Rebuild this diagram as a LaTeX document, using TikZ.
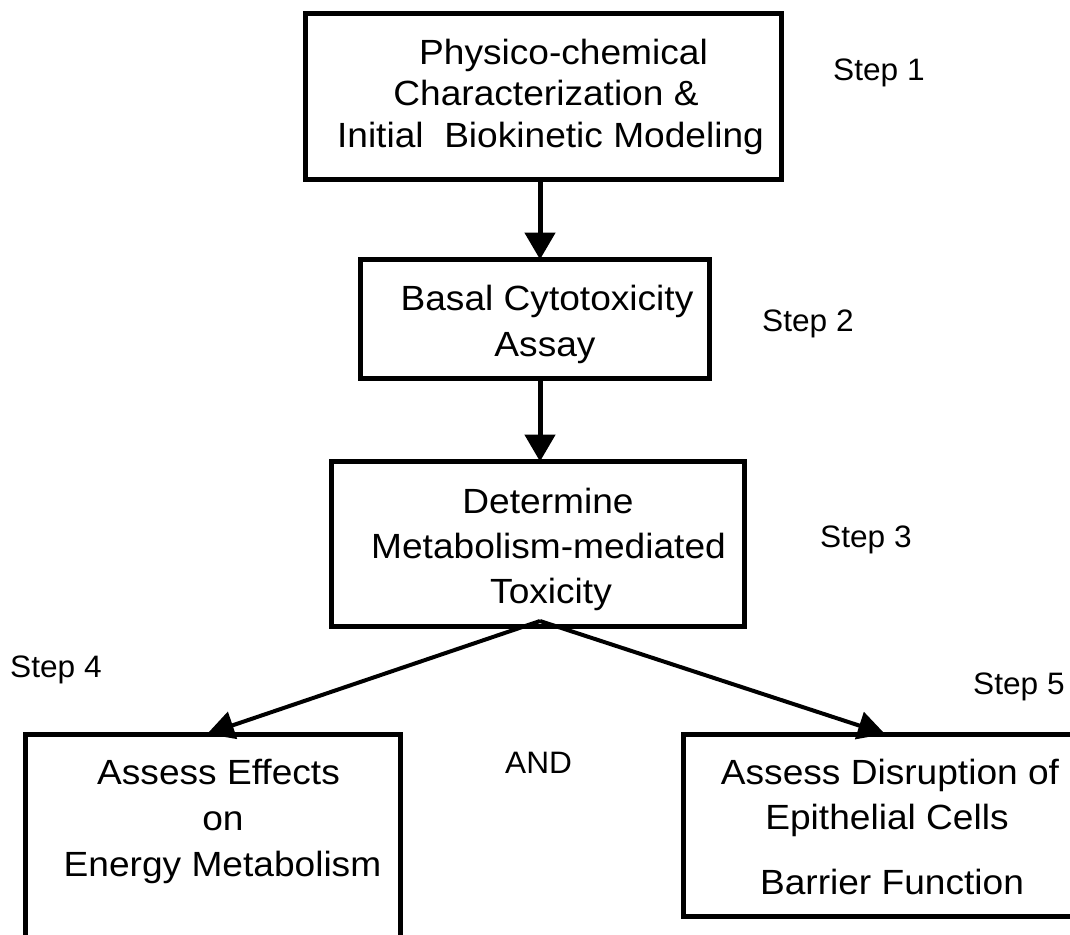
\documentclass[tikz,border=0pt]{standalone}
\usepackage{fontspec}
\setmainfont{Liberation Sans}
\newfontfamily\boxfont[FakeStretch=1.06]{Liberation Sans}
\newfontfamily\stepfont[FakeStretch=1.02]{Liberation Sans}
\usetikzlibrary{arrows.meta}
\begin{document}
\begin{tikzpicture}[x=1pt,y=-1pt,
  box/.style={draw, line width=5pt, rectangle, inner sep=0pt, outer sep=0pt},
  txt/.style={anchor=base, inner sep=0pt, font=\boxfont\fontsize{35}{42}\selectfont},
  steplbl/.style={anchor=base west, inner sep=0pt, font=\stepfont\fontsize{31}{37}\selectfont},
  arr/.style={line width=5pt, -{Triangle[length=27pt,width=30pt]}},
  darr/.style={line width=4pt, -{Triangle[length=27pt,width=28pt]}}]
\useasboundingbox (0,0) rectangle (1070,934);
\clip (0,0) rectangle (1070,934);

% boxes
\node[box, minimum width=475.5pt, minimum height=165pt] (b1) at (543.25,96.5) {};
\node[box, minimum width=349pt, minimum height=119pt] (b2) at (535,319) {};
\node[box, minimum width=413.5pt, minimum height=164.5pt] (b3) at (537.75,543.75) {};
\node[box, minimum width=375pt, minimum height=215pt] (b4) at (212.5,841.5) {};
\node[box, minimum width=398pt, minimum height=182.5pt] (b5) at (882.5,825.25) {};

% box texts
\node[txt] (t1a) at (563.5,65) {Physico-chemical};
\node[txt] (t1b) at (546,105) {Characterization \&};
\node[txt] (t1c) at (550.5,147) {Initial\ \ Biokinetic Modeling};

\node[txt] (t2a) at (547,310) {Basal Cytotoxicity};
\node[txt] (t2b) at (545,356) {Assay};

\node[txt] (t3a) at (548,513) {Determine};
\node[txt] (t3b) at (548.5,558) {Metabolism-mediated};
\node[txt] (t3c) at (551,603) {Toxicity};

\node[txt] (t4a) at (218.5,784) {Assess Effects};
\node[txt] (t4b) at (223,830) {on};
\node[txt] (t4c) at (222.5,876) {Energy Metabolism};

\node[txt] (t5a) at (890,784) {Assess Disruption of};
\node[txt] (t5b) at (887,829) {Epithelial Cells};
\node[txt] (t5c) at (892,894) {Barrier Function};

% step labels
\node[steplbl] (s1) at (833,80) {Step 1};
\node[steplbl] (s2) at (762,331) {Step 2};
\node[steplbl] (s3) at (820,547) {Step 3};
\node[steplbl] (s4) at (10,677) {Step 4};
\node[steplbl] (s5) at (973,694) {Step 5};
\node[steplbl] (and) at (505,773) {AND};

% connectors
\coordinate (ax) at (540,0);
\coordinate (fork) at (540,621);
\coordinate (tl) at (207,0);
\coordinate (tr) at (885,0);
\draw[arr] (b1.south -| ax) -- (b2.north -| ax);
\draw[arr] (b2.south -| ax) -- (b3.north -| ax);
\draw[darr] (fork) -- (b4.north -| tl);
\draw[darr] (fork) -- (b5.north -| tr);
\end{tikzpicture}
\end{document}
